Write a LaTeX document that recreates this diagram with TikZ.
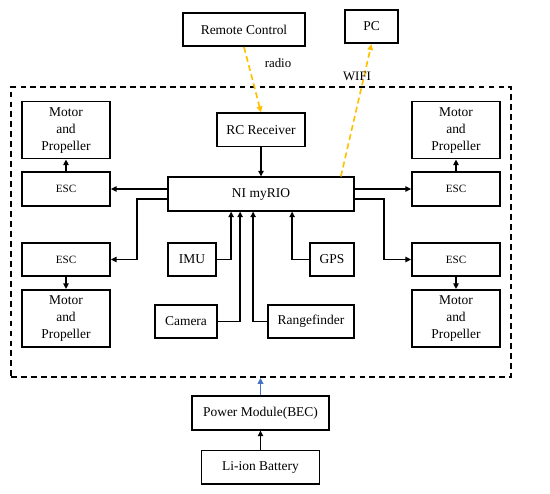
\documentclass[tikz,border=0pt]{standalone}
\usepackage{fontspec}
\setmainfont{Liberation Serif}
\usepackage{tikz}
\usetikzlibrary{arrows.meta,positioning,calc}
\definecolor{wifiorange}{HTML}{FFC000}
\definecolor{powerblue}{HTML}{4472C4}
\tikzset{
  blk/.style={
    rectangle,
    draw=black,
    line width=1.5pt,
    align=center,
    inner sep=1pt,
    minimum height=1.0cm,
    font=\fontsize{11.5}{14.5}\selectfont
  },
  escbox/.style={
    blk,
    minimum width=2.64cm,
    font=\fontsize{9.5}{11}\selectfont
  },
  motorbox/.style={
    blk,
    minimum width=2.64cm,
    minimum height=1.71cm
  },
  conn/.style={-{Triangle[length=1.7mm,width=1.6mm]}, line width=1.4pt, draw=black},
  wireless/.style={-{Triangle[length=1.8mm,width=1.7mm]}, line width=1.4pt, draw=wifiorange, dash pattern=on 5pt off 3pt},
  supply/.style={-{Triangle[length=1.8mm,width=1.7mm]}, line width=1.4pt, draw=powerblue},
  frame/.style={draw=black, line width=1.5pt, dash pattern=on 5pt off 3.5pt},
  lbl/.style={font=\fontsize{11}{13}\selectfont, inner sep=0pt}
}
\begin{document}
\begin{tikzpicture}[x=0.03cm, y=-0.03cm]
  \useasboundingbox (0,0) rectangle (550,493);

  % onboard system
  \node[frame, minimum width=15cm, minimum height=8.7cm] (board) at (261,232) {};
  \node[blk, minimum width=5.58cm] (myrio) at (261,194) {NI myRIO};
  \node[blk, minimum width=2.64cm, above=0.87cm of myrio] (rcrx) {RC Receiver};

  \node[escbox] (escTL) at (66,189) {ESC};
  \node[escbox] (escTR) at (456,189) {ESC};
  \node[escbox] (escBL) at (66,259.5) {ESC};
  \node[escbox] (escBR) at (456,259.5) {ESC};
  \node[motorbox, above=0.36cm of escTL] (motTL) {Motor\\and\\Propeller};
  \node[motorbox, above=0.36cm of escTR] (motTR) {Motor\\and\\Propeller};
  \node[motorbox, below=0.36cm of escBL] (motBL) {Motor\\and\\Propeller};
  \node[motorbox, below=0.36cm of escBR] (motBR) {Motor\\and\\Propeller};

  % sensors
  \node[blk, minimum width=1.44cm] (imu) at (192,259.5) {IMU};
  \node[blk, minimum width=1.32cm] (gps) at (332,259.5) {GPS};
  \node[blk, minimum width=1.86cm] (cam) at (186,321.5) {Camera};
  \node[blk, minimum width=2.58cm] (range) at (311,321.5) {Rangefinder};

  % outside the frame
  \node[blk, minimum width=3.66cm] (remote) at (244,29.5) {Remote Control};
  \node[blk, minimum width=1.59cm] (pc) at (371.5,26.5) {PC};
  \node[blk, minimum width=4.11cm] (bec) at (260.5,413) {Power Module(BEC)};
  \node[blk, minimum width=3.54cm, below=0.57cm of bec] (batt) {Li-ion Battery};

  % wireless links
  \draw[wireless] (remote.south) -- (rcrx.north);
  \draw[wireless] ($(myrio.north east)+(-14,0)$) -- (pc.south);
  \node[lbl] (radio) at (278,63) {radio};
  \node[lbl] (wifi) at (357,76) {WIFI};

  % control links
  \draw[conn] (rcrx) -- (myrio);
  \draw[conn] (myrio.west |- escTL) -- (escTL);
  \draw[conn] (myrio.east |- escTR) -- (escTR);
  \draw[conn] ($(myrio.west)+(0,5)$) -- ++(-30,0) |- (escBL.east);
  \draw[conn] ($(myrio.east)+(0,5)$) -- ++(29,0) |- (escBR.west);
  \draw[conn] (escTL) -- (motTL);
  \draw[conn] (escTR) -- (motTR);
  \draw[conn] (escBL) -- (motBL);
  \draw[conn] (escBR) -- (motBR);

  % sensor links
  \draw[conn] (imu.east) -| ($(myrio.south west)+(64,0)$);
  \draw[conn] (cam.east) -| ($(myrio.south west)+(73,0)$);
  \draw[conn] (range.west) -| ($(myrio.south west)+(86,0)$);
  \draw[conn] (gps.west) -| ($(myrio.south west)+(125,0)$);

  % power
  \draw[conn] (batt) -- (bec);
  \draw[supply] (bec.north) -- (bec.north |- board.south);
\end{tikzpicture}
\end{document}
